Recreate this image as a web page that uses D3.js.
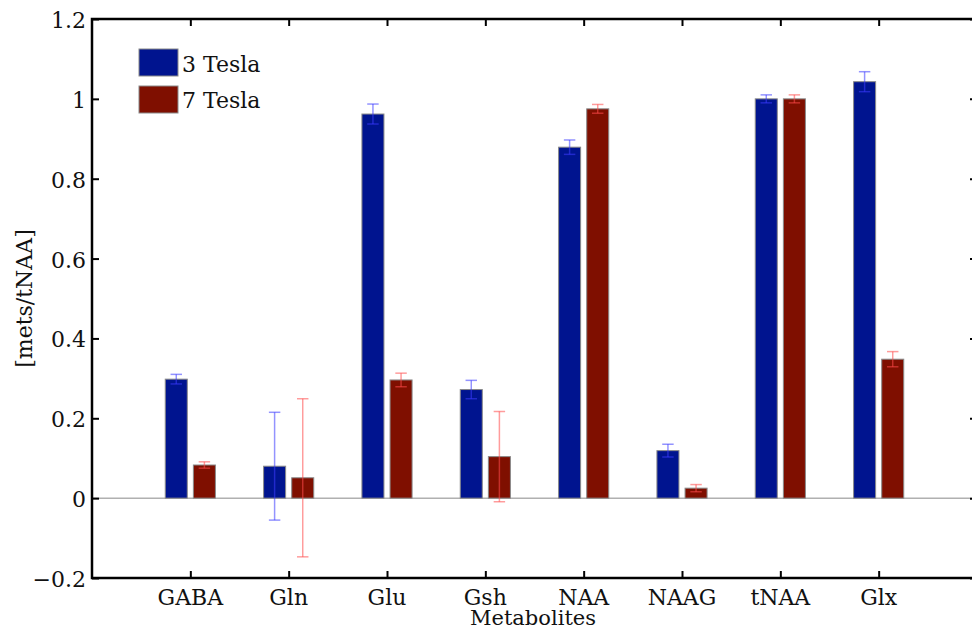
<!DOCTYPE html>
<html>
<head>
<meta charset="utf-8">
<script src="https://cdn.jsdelivr.net/npm/d3@7"></script>
<style>
  html, body { margin: 0; padding: 0; background: #fff; }
  svg { display: block; }
</style>
</head>
<body>
<svg id="chart" width="972" height="630"></svg>
<script>
// Metabolite concentration ratios relative to tNAA, 3 T vs 7 T
const metabolites = ["GABA", "Gln", "Glu", "Gsh", "NAA", "NAAG", "tNAA", "Glx"];
const seriesNames = ["3 Tesla", "7 Tesla"];
const tesla3 = [0.298, 0.080, 0.962, 0.272, 0.879, 0.119, 1.000, 1.043];
const tesla3Err = [0.012, 0.135, 0.025, 0.023, 0.018, 0.016, 0.010, 0.025];
const tesla7 = [0.083, 0.051, 0.296, 0.104, 0.975, 0.025, 1.000, 0.348];
const tesla7Err = [0.008, 0.198, 0.017, 0.113, 0.011, 0.009, 0.010, 0.019];
const yTicks = [-0.2, 0, 0.2, 0.4, 0.6, 0.8, 1, 1.2];

const svg = d3.select("#chart");
const plotL = 92, plotR = 977, plotT = 19, plotB = 578;
const serif = "'DejaVu Serif', 'Liberation Serif', 'Times New Roman', serif";

// numeric category axis: categories sit at 1..8, limits 0..9
const x = d3.scaleLinear().domain([0, 9]).range([plotL, plotR]);
const y = d3.scaleLinear().domain([-0.2, 1.2]).range([plotB, plotT]);

const barW = x(0.224) - x(0);
const offset = x(0.143) - x(0);

const colors = ["#00148f", "#7f0f00"];
const errColors = ["#3a3aff", "#ff4a4a"];
const series = [
  { values: tesla3, err: tesla3Err, dx: -offset },
  { values: tesla7, err: tesla7Err, dx: offset }
];

// zero reference line
svg.append("line")
  .attr("x1", plotL).attr("x2", plotR)
  .attr("y1", y(0)).attr("y2", y(0))
  .attr("stroke", "#b0b0b0").attr("stroke-width", 1.5);

series.forEach((s, si) => {
  const g = svg.append("g");
  g.selectAll("rect").data(s.values).join("rect")
    .attr("x", (d, i) => x(i + 1) + s.dx - barW / 2)
    .attr("width", barW)
    .attr("y", d => y(Math.max(d, 0)))
    .attr("height", d => Math.abs(y(d) - y(0)))
    .attr("fill", colors[si])
    .attr("stroke", "#8a8a8a").attr("stroke-width", 1);

  const e = svg.append("g")
    .attr("stroke", errColors[si])
    .attr("stroke-opacity", 0.55)
    .attr("stroke-width", 1.5);
  const capW = barW * 0.52;
  s.values.forEach((v, i) => {
    const cx = x(i + 1) + s.dx;
    const hi = y(v + s.err[i]), lo = y(v - s.err[i]);
    e.append("line").attr("x1", cx).attr("x2", cx).attr("y1", hi).attr("y2", lo);
    e.append("line").attr("x1", cx - capW / 2).attr("x2", cx + capW / 2).attr("y1", hi).attr("y2", hi);
    e.append("line").attr("x1", cx - capW / 2).attr("x2", cx + capW / 2).attr("y1", lo).attr("y2", lo);
  });
});

// axes box with inward ticks
const tickLen = 7;
const fmt = d => d < 0 ? "\u2212" + Math.abs(d) : String(d);

const yAxis = svg.append("g").attr("transform", `translate(${plotL},0)`)
  .call(d3.axisRight(y).tickValues(yTicks).tickSize(tickLen).tickFormat(""));
const yAxisR = svg.append("g").attr("transform", `translate(${plotR},0)`)
  .call(d3.axisLeft(y).tickValues(yTicks).tickSize(tickLen).tickFormat(""));
const xAxis = svg.append("g").attr("transform", `translate(0,${plotB})`)
  .call(d3.axisTop(x).tickValues(d3.range(1, 9)).tickSize(tickLen).tickFormat(""));
const xAxisT = svg.append("g").attr("transform", `translate(0,${plotT})`)
  .call(d3.axisBottom(x).tickValues(d3.range(1, 9)).tickSize(tickLen).tickFormat(""));

[yAxis, yAxisR, xAxis, xAxisT].forEach(a => {
  a.select(".domain").remove();
  a.selectAll(".tick line").attr("stroke", "#000").attr("stroke-width", 2);
});

svg.append("rect")
  .attr("x", plotL).attr("y", plotT)
  .attr("width", plotR - plotL).attr("height", plotB - plotT)
  .attr("fill", "none").attr("stroke", "#000").attr("stroke-width", 2.5);

// tick labels
const labels = svg.append("g")
  .attr("font-family", serif).attr("font-size", 22).attr("fill", "#111");

labels.append("g").selectAll("text").data(yTicks).join("text")
  .attr("x", plotL - 6).attr("y", d => y(d) + 9)
  .attr("text-anchor", "end")
  .text(fmt);

labels.append("g").selectAll("text").data(metabolites).join("text")
  .attr("x", (d, i) => x(i + 1)).attr("y", 605)
  .attr("text-anchor", "middle")
  .text(d => d);

labels.append("text")
  .attr("x", 533).attr("y", 625)
  .attr("font-size", 21)
  .attr("text-anchor", "middle")
  .text("Metabolites");

labels.append("text")
  .attr("transform", `translate(32,${(plotT + plotB) / 2}) rotate(-90)`)
  .attr("text-anchor", "middle")
  .text("[mets/tNAA]");

// legend
const legend = svg.append("g").attr("transform", "translate(139,49)")
  .attr("font-family", serif).attr("font-size", 22).attr("fill", "#111");
seriesNames.forEach((name, i) => {
  legend.append("rect")
    .attr("x", 0).attr("y", i * 37)
    .attr("width", 39).attr("height", 27)
    .attr("fill", colors[i]).attr("stroke", "#8a8a8a").attr("stroke-width", 1);
  legend.append("text")
    .attr("x", 43).attr("y", i * 36 + 23)
    .text(name);
});
</script>
</body>
</html>
